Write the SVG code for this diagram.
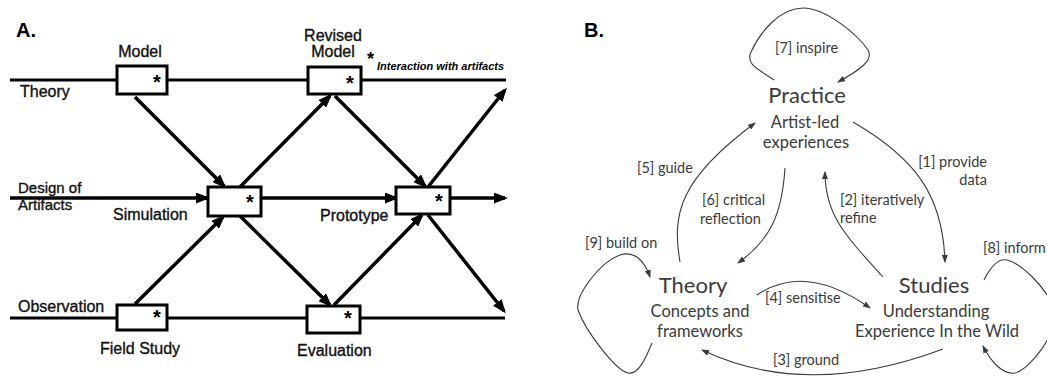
<svg xmlns="http://www.w3.org/2000/svg" width="1047" height="376" viewBox="0 0 1047 376">
<style>
.a{font-family:"Liberation Sans",Arial,sans-serif;font-size:16px;fill:#111;stroke:#111;stroke-width:0.35px}
.ttl{font-family:"Liberation Sans",Arial,sans-serif;font-size:20px;font-weight:bold;fill:#000}
.box{fill:#fff;stroke:#000;stroke-width:3}
.ln{fill:none;stroke:#000;stroke-width:3}
.arA{fill:none;stroke:#000;stroke-width:3.5;marker-end:url(#ha)}
.ast{font-family:"Liberation Sans",Arial,sans-serif;font-size:20px;font-weight:bold;fill:#000}
.it{font-family:"Liberation Sans",Arial,sans-serif;font-size:11px;font-weight:bold;font-style:italic;fill:#000}
.b{font-family:Lato,"Open Sans",sans-serif;fill:#3a3a3a}
.h{font-size:22px}
.s{font-size:16.5px}
.l{font-size:14.5px}
.c{text-anchor:middle}
.e{text-anchor:end}
.arB{fill:none;stroke:#3a3a3a;stroke-width:1.1;marker-end:url(#hb)}
</style>
<defs>
<marker id="ha" viewBox="0 0 14 11" refX="11" refY="5.5" markerWidth="14" markerHeight="11" markerUnits="userSpaceOnUse" orient="auto"><path d="M0,0 L14,5.5 L0,11 z" fill="#000"/></marker>
<marker id="hb" viewBox="0 0 8 6" refX="7" refY="3" markerWidth="8" markerHeight="6" markerUnits="userSpaceOnUse" orient="auto"><path d="M0,0 L8,3 L0,6 z" fill="#3a3a3a"/></marker>
</defs>

<!-- Panel A -->
<text class="ttl" x="16" y="37">A.</text>
<g id="a-lines">
<line class="ln" x1="10" y1="80" x2="506" y2="80"/>
<line class="ln" x1="10" y1="318" x2="505" y2="318"/>
<line class="arA" x1="10" y1="198" x2="207" y2="198"/>
<line class="arA" x1="261" y1="198" x2="396" y2="198"/>
<line class="arA" x1="450" y1="198" x2="505" y2="198"/>
<line class="arA" x1="135" y1="97" x2="224" y2="186"/>
<line class="arA" x1="240" y1="187" x2="330" y2="96"/>
<line class="arA" x1="335" y1="96" x2="425" y2="186"/>
<line class="arA" x1="428" y1="187" x2="505" y2="90"/>
<line class="arA" x1="135" y1="304" x2="223" y2="217"/>
<line class="arA" x1="240" y1="216" x2="330" y2="305"/>
<line class="arA" x1="334" y1="305" x2="422" y2="215"/>
<line class="arA" x1="428" y1="215" x2="504" y2="311"/>
</g>
<text class="a" x="20" y="97">Theory</text>
<text class="a" x="18" y="193" style="font-size:15px">Design of</text>
<text class="a" x="18" y="210" style="font-size:15px">Artifacts</text>
<text class="a" x="18" y="312">Observation</text>
<g id="a-model">
<rect class="box" x="117" y="66" width="50" height="28"/>
<text class="ast" x="153" y="89">*</text>
<text class="a c" x="140" y="57">Model</text>
</g>
<g id="a-revised">
<rect class="box" x="308" y="67" width="53" height="27"/>
<text class="ast" x="346" y="90">*</text>
<text class="a c" x="333" y="41">Revised</text>
<text class="a c" x="333" y="57">Model</text>
</g>
<text class="ast" x="367" y="65" style="font-size:18px">*</text>
<text class="it" x="377" y="70">Interaction with artifacts</text>
<g id="a-sim">
<rect class="box" x="208" y="187" width="53" height="29"/>
<text class="ast" x="246" y="209">*</text>
<text class="a" x="113" y="220">Simulation</text>
</g>
<g id="a-proto">
<rect class="box" x="396" y="187" width="54" height="27"/>
<text class="ast" x="435" y="208">*</text>
<text class="a" x="320" y="221">Prototype</text>
</g>
<g id="a-field">
<rect class="box" x="117" y="305" width="50" height="25"/>
<text class="ast" x="153" y="324">*</text>
<text class="a" x="100" y="354">Field Study</text>
</g>
<g id="a-eval">
<rect class="box" x="307" y="306" width="53" height="27"/>
<text class="ast" x="344" y="325">*</text>
<text class="a" x="297" y="356">Evaluation</text>
</g>

<!-- Panel B -->
<text class="ttl" x="584" y="37">B.</text>
<g id="b-connectors">
<path class="arB" d="M774,80 C760,70 745,65 751,52 C760,32 780,8 803,8 C826,8 858,35 868,50 C874,60 860,70 838,82"/>
<path class="arB" d="M680,262 C672,215 678,180 755,123"/>
<path class="arB" d="M785,168 C782,215 770,240 738,263"/>
<path class="arB" d="M883,277 C845,235 825,215 825,172"/>
<path class="arB" d="M853,122 C915,158 943,195 945,262"/>
<path class="arB" d="M757,295 Q805,262 870,308"/>
<path class="arB" d="M943,349 Q807,400 702,350"/>
<path class="arB" d="M652,343 C645,360 638,375 628,373 C615,370 585,330 578,310 C575,295 600,262 620,255 C635,250 645,262 650,277"/>
<path class="arB" d="M984,280 C990,268 998,258 1007,260 C1020,263 1045,285 1055,310 C1060,330 1030,370 1015,373 C1002,375 990,360 983,346"/>
</g>
<g id="b-practice">
<text class="b h c" x="807" y="103">Practice</text>
<text class="b s c" x="805" y="128">Artist-led</text>
<text class="b s c" x="806" y="148">experiences</text>
</g>
<g id="b-theory">
<text class="b h c" x="693" y="293">Theory</text>
<text class="b s c" x="700" y="317">Concepts and</text>
<text class="b s c" x="700" y="337">frameworks</text>
</g>
<g id="b-studies">
<text class="b h c" x="934" y="293">Studies</text>
<text class="b s c" x="936" y="317">Understanding</text>
<text class="b s c" x="937" y="337">Experience In the Wild</text>
</g>
<g id="b-labels">
<text class="b l" x="775" y="53">[7] inspire</text>
<text class="b l" x="637" y="173">[5] guide</text>
<text class="b l" x="702" y="205">[6] critical</text>
<text class="b l" x="700" y="224">reflection</text>
<text class="b l" x="585" y="248">[9] build on</text>
<text class="b l" x="765" y="303">[4] sensitise</text>
<text class="b l" x="773" y="365">[3] ground</text>
<text class="b l" x="840" y="205">[2] iteratively</text>
<text class="b l" x="840" y="223">refine</text>
<text class="b l e" x="987" y="167">[1] provide</text>
<text class="b l e" x="987" y="185">data</text>
<text class="b l" x="983" y="253">[8] inform</text>
</g>
</svg>
